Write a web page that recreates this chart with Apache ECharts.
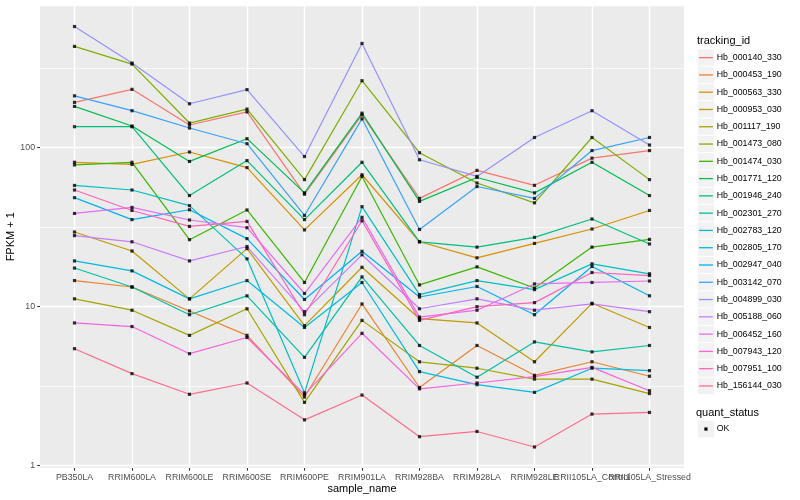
<!DOCTYPE html>
<html><head><meta charset="utf-8">
<script src="https://cdn.jsdelivr.net/npm/echarts@6/dist/echarts.min.js"></script>
<style>html,body{margin:0;padding:0;background:#fff}#c{width:800px;height:500px}</style>
</head><body><div id="c"></div><script>
const categories = ['PB350LA','RRIM600LA','RRIM600LE','RRIM600SE','RRIM600PE','RRIM901LA','RRIM928BA','RRIM928LA','RRIM928LE','RRII105LA_Control','RRII105LA_Stressed'];
const trackingIds = ['Hb_000140_330','Hb_000453_190','Hb_000563_330','Hb_000953_030','Hb_001117_190','Hb_001473_080','Hb_001474_030','Hb_001771_120','Hb_001946_240','Hb_002301_270','Hb_002783_120','Hb_002805_170','Hb_002947_040','Hb_003142_070','Hb_004899_030','Hb_005188_060','Hb_006452_160','Hb_007943_120','Hb_007951_100','Hb_156144_030'];
const yTickLabels = [1, 10, 100];

// FPKM + 1 per sample, in category order
const hb_000140_330 = [193, 233, 139, 168, 51, 161, 48, 72, 58, 86, 96];
const hb_000453_190 = [14.6, 13.3, 9.4, 6.6, 2.7, 10.4, 3.1, 5.7, 3.7, 4.5, 3.65];
const hb_000563_330 = [81, 78.5, 94, 75, 30.4, 67.6, 25.6, 20.3, 25, 30.8, 40.3];
const hb_000953_030 = [29.5, 22.4, 11.2, 23.2, 7.6, 17.7, 8.4, 7.9, 4.5, 10.5, 7.4];
const hb_001117_190 = [11.2, 9.5, 6.6, 9.7, 2.5, 8.2, 4.5, 4.1, 3.5, 3.5, 2.84];
const hb_001473_080 = [434, 336, 143, 175, 63, 264, 93, 60, 45, 116, 63];
const hb_001474_030 = [78, 81, 26.4, 40.6, 14.2, 66, 13.7, 17.8, 13.1, 23.7, 26.5];
const hb_001771_120 = [182, 137, 82, 114, 52, 165, 46, 65, 52, 81, 50];
const hb_001946_240 = [135.6, 135.6, 50, 83, 35.3, 81, 25.6, 23.7, 27.3, 35.6, 24.8];
const hb_002301_270 = [17.5, 13.3, 8.9, 11.7, 4.8, 15.4, 5.7, 3.6, 6.0, 5.2, 5.7];
const hb_002783_120 = [57.9, 54.2, 43.2, 20, 2.87, 42.6, 11.9, 14.6, 12.8, 18.6, 16.1];
const hb_002805_170 = [19.4, 16.8, 11.2, 14.6, 7.4, 14.2, 3.9, 3.23, 2.89, 4.1, 3.96];
const hb_002947_040 = [48.5, 35.3, 40.7, 26.8, 11.1, 22.3, 11.5, 13.4, 8.9, 17.9, 11.7];
const hb_003142_070 = [212, 171, 133, 106, 37.5, 152, 30.6, 57, 48, 96, 116];
const hb_004899_030 = [579, 341, 189, 232, 88, 453, 84, 66, 116, 171, 104];
const hb_005188_060 = [28, 25.6, 19.4, 23.9, 9.3, 21.2, 9.7, 11.2, 9.5, 10.4, 9.3];
const hb_006452_160 = [38.6, 42.1, 35.1, 31.4, 12.1, 36.5, 8.6, 9.5, 13.9, 14.2, 14.5];
const hb_007943_120 = [7.9, 7.5, 5.06, 6.4, 2.8, 6.8, 3.04, 3.31, 3.63, 4.15, 2.96];
const hb_007951_100 = [54.2, 40.3, 32, 34.4, 8.9, 34.7, 8.2, 10, 10.6, 16.4, 15.7];
const hb_156144_030 = [5.44, 3.79, 2.81, 3.31, 1.94, 2.78, 1.52, 1.64, 1.31, 2.11, 2.16];

const seriesValues = [hb_000140_330, hb_000453_190, hb_000563_330, hb_000953_030, hb_001117_190, hb_001473_080, hb_001474_030, hb_001771_120, hb_001946_240, hb_002301_270, hb_002783_120, hb_002805_170, hb_002947_040, hb_003142_070, hb_004899_030, hb_005188_060, hb_006452_160, hb_007943_120, hb_007951_100, hb_156144_030];
const statusName = 'OK';

// styles
const colors = ['#F8766D','#EA8331','#D89000','#C09B00','#A3A500','#7CAE00','#39B600','#00BB4E','#00BF7D','#00C1A3','#00BFC4','#00BAE0','#00B0F6','#35A2FF','#9590FF','#C77CFF','#E76BF3','#FA62DB','#FF62BC','#FF6C91'];
const FONT = '"Liberation Sans", Arial, Helvetica, sans-serif';
const yMin = 0.966, yMax = 785;
const KEY = 17.28, LEG_X = 697.3, LEG1_TOP = 49, LEG2_TOP = 420.4;

const chart = echarts.init(document.getElementById('c'), null, {renderer: 'canvas'});

const series = trackingIds.map((id, i) => ({
  type: 'line', name: id, xAxisIndex: 1, yAxisIndex: 3,
  data: seriesValues[i], symbol: 'none', showSymbol: false,
  lineStyle: {color: colors[i], width: 1.2}, itemStyle: {color: colors[i]},
  silent: true, z: 2
}));
const pointData = [];
seriesValues.forEach(vals => vals.forEach((v, j) => pointData.push([j, v])));
series.push({
  type: 'scatter', name: statusName, xAxisIndex: 1, yAxisIndex: 3,
  data: pointData, symbol: 'rect', symbolSize: 3.2,
  itemStyle: {color: '#000000'}, silent: true, z: 3
});

// legend key boxes (ggplot-style grey keys)
const keyGraphics = [];
trackingIds.forEach((id, i) => {
  const y0 = LEG1_TOP + i * KEY;
  keyGraphics.push({type: 'rect', silent: true, z: 1, shape: {x: LEG_X, y: y0, width: KEY, height: KEY},
    style: {fill: '#F2F2F2', stroke: '#FFFFFF', lineWidth: 0.8}});
  keyGraphics.push({type: 'line', silent: true, z: 2, shape: {x1: LEG_X + 1.73, y1: y0 + KEY / 2, x2: LEG_X + KEY - 1.73, y2: y0 + KEY / 2},
    style: {stroke: colors[i], lineWidth: 1.3}});
});
keyGraphics.push({type: 'rect', silent: true, z: 1, shape: {x: LEG_X, y: LEG2_TOP, width: KEY, height: KEY},
  style: {fill: '#F2F2F2', stroke: '#FFFFFF', lineWidth: 0.8}});
keyGraphics.push({type: 'rect', silent: true, z: 2, shape: {x: LEG_X + KEY / 2 - 1.6, y: LEG2_TOP + KEY / 2 - 1.6, width: 3.2, height: 3.2},
  style: {fill: '#000000'}});

const legendText = {fontSize: 8.8, color: '#000000', fontFamily: FONT, lineHeight: KEY};
const legendCommon = {orient: 'vertical', left: LEG_X, padding: 0, itemWidth: 14.4, itemHeight: KEY, itemGap: 0,
  selectedMode: false, textStyle: legendText, itemStyle: {opacity: 0, borderWidth: 0}, lineStyle: {opacity: 0}, icon: 'rect'};

const hiddenAxisParts = {position: 'left', offset: 0, axisLine: {show: false}, axisTick: {show: false}, axisLabel: {show: false}};
chart.setOption({
  animation: false,
  backgroundColor: '#FFFFFF',
  textStyle: {fontFamily: FONT},
  grid: [
    {left: 40, right: 116, top: 5.5, bottom: 32, show: true, backgroundColor: '#EBEBEB', borderWidth: 0, containLabel: false, outerBoundsMode: 'none'},
    {left: 74.5, right: 150.5, top: 5.5, bottom: 32, containLabel: false, outerBoundsMode: 'none'}
  ],
  xAxis: [
    {gridIndex: 0, type: 'value', show: false, min: 0, max: 1},
    {gridIndex: 1, type: 'category', data: categories, boundaryGap: false,
      axisLine: {show: false},
      axisTick: {show: true, interval: 0, length: 2.75, lineStyle: {color: '#333333', width: 1.07}},
      axisLabel: {interval: 0, hideOverlap: false, fontSize: 8.8, color: '#4D4D4D', margin: 4.6, fontFamily: FONT},
      splitLine: {show: true, interval: 0, lineStyle: {color: '#FFFFFF', width: 1.42}},
      name: 'sample_name', nameLocation: 'middle', nameGap: 15.5, nameMoveOverlap: false,
      nameTextStyle: {fontSize: 11, color: '#000000', fontFamily: FONT}}
  ],
  yAxis: [
    // minor grid: half-decade steps (base sqrt(10))
    Object.assign({gridIndex: 0, type: 'log', logBase: Math.sqrt(10), min: yMin, max: yMax,
      splitLine: {show: true, lineStyle: {color: '#FFFFFF', width: 0.71}}}, hiddenAxisParts),
    // major grid: decades
    Object.assign({gridIndex: 0, type: 'log', logBase: 10, min: yMin, max: yMax,
      splitLine: {show: true, lineStyle: {color: '#FFFFFF', width: 1.42}}}, hiddenAxisParts),
    // labelled axis
    {gridIndex: 0, type: 'log', logBase: 10, min: yMin, max: yMax, position: 'left', offset: 0,
      axisLine: {show: false},
      axisTick: {show: true, length: 2.75, customValues: yTickLabels, lineStyle: {color: '#333333', width: 1.07}},
      axisLabel: {fontSize: 8.8, color: '#4D4D4D', margin: 4.95, customValues: yTickLabels, fontFamily: FONT},
      splitLine: {show: false},
      name: 'FPKM + 1', nameLocation: 'middle', nameGap: 23.5, nameRotate: 90, nameMoveOverlap: false,
      nameTextStyle: {fontSize: 11, color: '#000000', fontFamily: FONT}},
    Object.assign({gridIndex: 1, type: 'log', logBase: 10, min: yMin, max: yMax, splitLine: {show: false}}, hiddenAxisParts)
  ],
  legend: [
    Object.assign({data: trackingIds, top: LEG1_TOP}, legendCommon),
    Object.assign({data: [statusName], top: LEG2_TOP}, legendCommon)
  ],
  graphic: keyGraphics.concat([
    {type: 'text', x: 697, y: 40.7, silent: true, style: {text: 'tracking_id', fontSize: 11, fontFamily: FONT, fill: '#000000', verticalAlign: 'middle', align: 'left'}},
    {type: 'text', x: 696, y: 412.7, silent: true, style: {text: 'quant_status', fontSize: 11, fontFamily: FONT, fill: '#000000', verticalAlign: 'middle', align: 'left'}}
  ]),
  series: series
});
</script></body></html>
